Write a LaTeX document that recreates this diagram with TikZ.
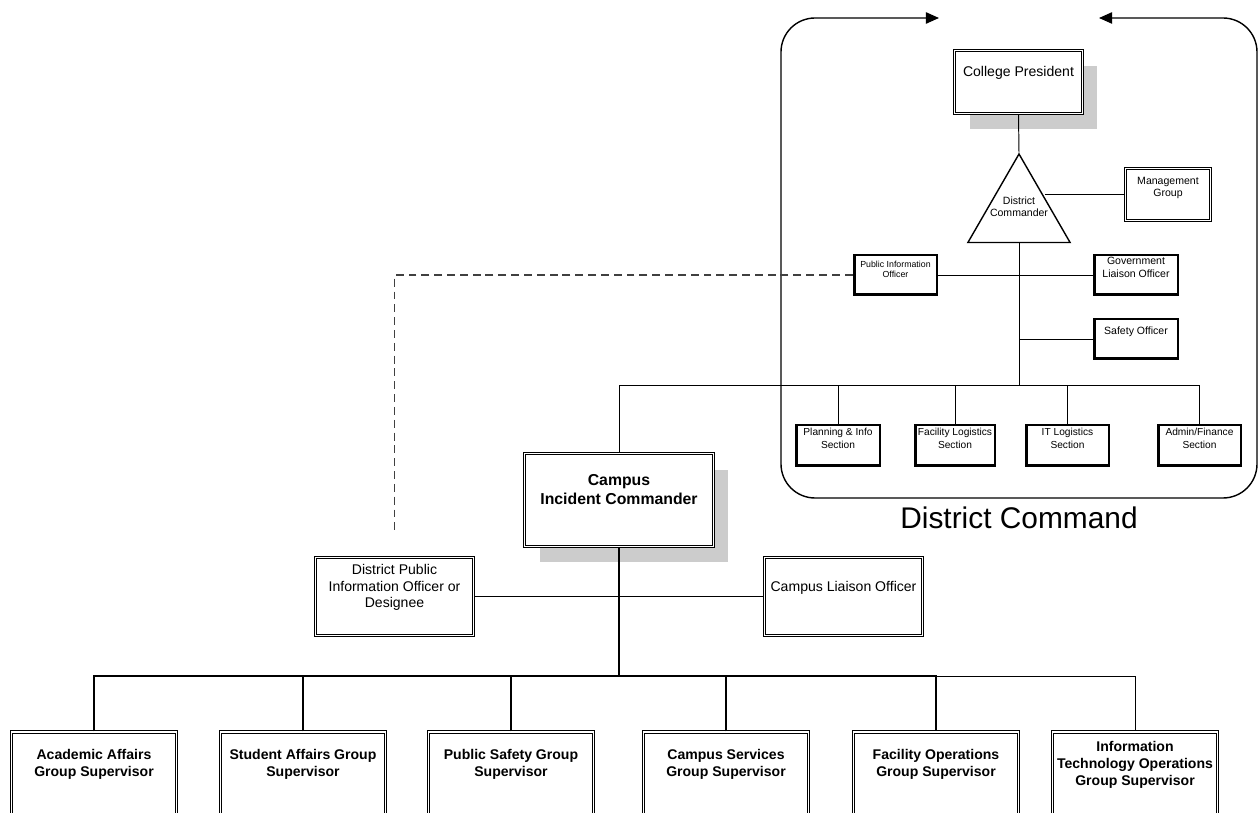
\documentclass[tikz,border=0pt]{standalone}
\usepackage{fontspec}
\setmainfont{Liberation Sans}
\usetikzlibrary{arrows.meta, positioning, shapes.geometric, shadows, calc}

\tikzset{
  dbox/.style={rectangle, draw, double, double distance=0.75pt, line width=0.6pt, fill=white, inner sep=0pt},
  tbox/.style={rectangle, draw, line width=1.7pt, fill=white, inner sep=0pt},
  shadowed/.style={drop shadow={shadow xshift=0.3cm, shadow yshift=-0.32cm, fill=black!20, opacity=1}},
  lbl/.style={align=center, inner sep=0pt},
  txt8/.style={lbl, font=\fontsize{8}{9.4}\selectfont},
  txt6/.style={lbl, font=\fontsize{6}{7.4}\selectfont},
  sectxt/.style={lbl, font=\fontsize{5.8}{7.4}\selectfont},
  grptxt/.style={lbl, font=\bfseries\fontsize{8}{9.7}\selectfont},
  link/.style={line width=0.55pt},
  bus/.style={line width=1.1pt},
  dashline/.style={line width=0.6pt, black!75, dash pattern=on 4.5pt off 2.8pt},
}

\begin{document}
\begin{tikzpicture}[x=0.02cm, y=-0.02cm]
\useasboundingbox (0,0) rectangle (1259,813);

% District command frame
\draw[line width=0.8pt, rounded corners=0.68cm, {Triangle[length=7.5pt,width=6.5pt]}-{Triangle[length=7.5pt,width=6.5pt]}]
  (939,18) -- (781,18) -- (781,498) -- (1257,498) -- (1257,18) -- (1099,18);
\node[font=\fontsize{17}{20}\selectfont] (dcmd-t) at (1019,518) {District Command};

% District nodes
\node[dbox, shadowed, minimum width=2.56cm, minimum height=1.26cm] (pres) at (1018.5,82) {};
\node[txt8] (pres-t) at (1018.5,73) {College President};
\node[draw, fill=white, regular polygon, regular polygon sides=3, minimum size=2.36cm, inner sep=0pt, line width=0.8pt] (cmd) at (1019,213) {};
\node[lbl, font=\fontsize{6}{6.8}\selectfont] (cmd-t) at (1019,207) {District\\Commander};
\node[dbox, minimum width=1.70cm, minimum height=1.04cm] (mgmt) at (1168,194.5) {};
\node[lbl, font=\fontsize{6}{6.8}\selectfont] (mgmt-t) at (1168,188) {Management\\Group};
\node[tbox, minimum width=1.66cm, minimum height=0.80cm] (pio) at (895.5,275) {};
\node[lbl, font=\fontsize{5}{5.7}\selectfont] (pio-t) at (895.5,269) {Public Information\\Officer};
\node[tbox, minimum width=1.68cm, minimum height=0.80cm] (gov) at (1136,275) {};
\node[txt6] (gov-t) at (1136,267.5) {Government\\Liaison Officer};
\node[tbox, minimum width=1.68cm, minimum height=0.80cm] (safety) at (1136,339) {};
\node[txt6] (safety-t) at (1136,332) {Safety Officer};

% Sections
\node[tbox, minimum width=1.68cm, minimum height=0.82cm] (plan) at (838,445.5) {};
\node[sectxt] (plan-t) at (838,438.5) {Planning \& Info\\Section};
\node[tbox, minimum width=1.60cm, minimum height=0.82cm] (faclog) at (955,445.5) {};
\node[sectxt] (faclog-t) at (955,438.5) {Facility Logistics\\Section};
\node[tbox, minimum width=1.66cm, minimum height=0.82cm] (itlog) at (1067.5,445.5) {};
\node[sectxt] (itlog-t) at (1067.5,438.5) {IT Logistics\\Section};
\node[tbox, minimum width=1.66cm, minimum height=0.82cm] (admin) at (1199.5,445.5) {};
\node[sectxt] (admin-t) at (1199.5,438.5) {Admin/Finance\\Section};

% Campus nodes
\node[dbox, shadowed, minimum width=3.78cm, minimum height=1.86cm] (ic) at (619,500) {};
\node[lbl, font=\bfseries\fontsize{9}{10.8}\selectfont] (ic-t) at (619,489.5) {Campus\\Incident Commander};
\node[dbox, minimum width=3.16cm, minimum height=1.56cm] (dpio) at (394.5,596.5) {};
\node[txt8] (dpio-t) at (394.5,587.5) {District Public\\Information Officer or\\Designee};
\node[dbox, minimum width=3.16cm, minimum height=1.56cm] (clo) at (843.5,596.5) {};
\node[txt8] (clo-t) at (843.5,588) {Campus Liaison Officer};

% Groups
\node[dbox, minimum width=3.30cm, minimum height=2.2cm] (acad) at (94,787) {};
\node[grptxt] (acad-t) at (94,764) {Academic Affairs\\Group Supervisor};
\node[dbox, minimum width=3.30cm, minimum height=2.2cm] (stud) at (303,787) {};
\node[grptxt] (stud-t) at (303,764) {Student Affairs Group\\Supervisor};
\node[dbox, minimum width=3.30cm, minimum height=2.2cm] (psafe) at (511,787) {};
\node[grptxt] (psafe-t) at (511,764) {Public Safety Group\\Supervisor};
\node[dbox, minimum width=3.30cm, minimum height=2.2cm] (csvc) at (726,787) {};
\node[grptxt] (csvc-t) at (726,764) {Campus Services\\Group Supervisor};
\node[dbox, minimum width=3.30cm, minimum height=2.2cm] (facop) at (936,787) {};
\node[grptxt] (facop-t) at (936,764) {Facility Operations\\Group Supervisor};
\node[dbox, minimum width=3.30cm, minimum height=2.2cm] (itop) at (1135,787) {};
\node[grptxt] (itop-t) at (1135,764.5) {Information\\Technology Operations\\Group Supervisor};

% District links
\coordinate (dbus) at (1019,385);
\draw[link] (pres.south) -- (cmd.north);
\draw[link] (mgmt.west) -- (mgmt.west -| cmd.side 3);
\draw[link] (cmd.south) -- (dbus);
\draw[link] (pio.east) -- (gov.west);
\draw[link] (safety.west) -- (safety.west -| dbus);
\draw[link] (ic.north) |- (admin.north |- dbus) -- (admin.north);
\foreach \s in {plan, faclog, itlog}
  \draw[link] (\s.north) -- (\s.north |- dbus);

% Dashed information line
\coordinate (pdash) at ($(dpio.north)+(0,-24)$);
\draw[dashline] (pio.west) -| (pdash);

% Campus links
\coordinate (cbus) at (619,676);
\draw[line width=1.7pt] (ic.south) -- (cbus);
\draw[link] (dpio.east) -- (clo.west);
\draw[bus] (acad.north) |- (facop.north |- cbus) -- (facop.north);
\draw[link] (facop.north |- cbus) -| (itop.north);
\foreach \g in {stud, psafe, csvc}
  \draw[bus] (\g.north) -- (\g.north |- cbus);

\end{tikzpicture}
\end{document}
